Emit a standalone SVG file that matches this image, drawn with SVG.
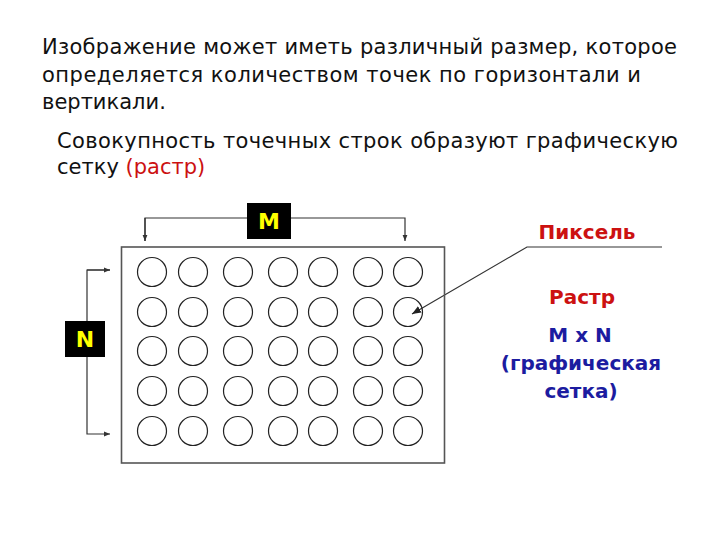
<svg xmlns="http://www.w3.org/2000/svg" width="720" height="540" viewBox="0 0 720 540">
<style>
.t{font-family:"DejaVu Sans","Liberation Sans",sans-serif;font-size:21px;fill:#111}
.b{font-family:"DejaVu Sans","Liberation Sans",sans-serif;font-size:20px;font-weight:bold;text-anchor:middle}
.red{fill:#cc1111}
.blue{fill:#1c1ca0}
.px{fill:none;stroke:#222;stroke-width:1.2}
.ln{fill:none;stroke:#333;stroke-width:1.2}
.lbl{fill:#000}
.yl{font-family:"DejaVu Sans","Liberation Sans",sans-serif;font-size:22px;font-weight:bold;fill:#ffff00;text-anchor:middle}
</style>
<defs>
<marker id="ah" viewBox="0 0 10 10" refX="10" refY="5" markerWidth="6" markerHeight="6" orient="auto" markerUnits="userSpaceOnUse">
<path d="M0,1 L10,5 L0,9 z" fill="#333"/>
</marker>
<marker id="ah2" viewBox="0 0 10 10" refX="10" refY="5" markerWidth="9" markerHeight="9" orient="auto" markerUnits="userSpaceOnUse">
<path d="M0,1 L10,5 L0,9 z" fill="#222"/>
</marker>
</defs>
<rect width="720" height="540" fill="#fff"/>
<g id="text-intro">
<text class="t" x="42" y="54" textLength="635">Изображение может иметь различный размер, которое</text>
<text class="t" x="42" y="82" textLength="599">определяется количеством точек по горизонтали и</text>
<text class="t" x="42" y="109">вертикали.</text>
<text class="t" x="57" y="148" textLength="621">Совокупность точечных строк образуют графическую</text>
<text class="t" x="57" y="174">сетку <tspan class="red">(растр)</tspan></text>
</g>
<g id="connectors">
<polyline class="ln" points="145,241 145,218 405,218 405,241" marker-end="url(#ah)"/>
<line class="ln" x1="145" y1="218" x2="145" y2="241" marker-end="url(#ah)"/>
<polyline class="ln" points="110,270 87,270 87,434 110,434" marker-end="url(#ah)"/>
<line class="ln" x1="87" y1="270" x2="110" y2="270" marker-end="url(#ah)"/>
<polyline class="ln" points="662,247 527,247 412,314" marker-end="url(#ah2)" stroke="#222"/>
</g>
<g id="raster">
<rect x="121.5" y="247" width="323" height="216" fill="none" stroke="#555" stroke-width="1.6"/>
<g id="pixels">
<circle class="px" cx="152" cy="272" r="14.5"/><circle class="px" cx="193" cy="272" r="14.5"/><circle class="px" cx="238" cy="272" r="14.5"/><circle class="px" cx="283" cy="272" r="14.5"/><circle class="px" cx="323" cy="272" r="14.5"/><circle class="px" cx="368" cy="272" r="14.5"/><circle class="px" cx="408" cy="272" r="14.5"/>
<circle class="px" cx="152" cy="312" r="14.5"/><circle class="px" cx="193" cy="312" r="14.5"/><circle class="px" cx="238" cy="312" r="14.5"/><circle class="px" cx="283" cy="312" r="14.5"/><circle class="px" cx="323" cy="312" r="14.5"/><circle class="px" cx="368" cy="312" r="14.5"/><circle class="px" cx="408" cy="312" r="14.5"/>
<circle class="px" cx="152" cy="351" r="14.5"/><circle class="px" cx="193" cy="351" r="14.5"/><circle class="px" cx="238" cy="351" r="14.5"/><circle class="px" cx="283" cy="351" r="14.5"/><circle class="px" cx="323" cy="351" r="14.5"/><circle class="px" cx="368" cy="351" r="14.5"/><circle class="px" cx="408" cy="351" r="14.5"/>
<circle class="px" cx="152" cy="391" r="14.5"/><circle class="px" cx="193" cy="391" r="14.5"/><circle class="px" cx="238" cy="391" r="14.5"/><circle class="px" cx="283" cy="391" r="14.5"/><circle class="px" cx="323" cy="391" r="14.5"/><circle class="px" cx="368" cy="391" r="14.5"/><circle class="px" cx="408" cy="391" r="14.5"/>
<circle class="px" cx="152" cy="431" r="14.5"/><circle class="px" cx="193" cy="431" r="14.5"/><circle class="px" cx="238" cy="431" r="14.5"/><circle class="px" cx="283" cy="431" r="14.5"/><circle class="px" cx="323" cy="431" r="14.5"/><circle class="px" cx="368" cy="431" r="14.5"/><circle class="px" cx="408" cy="431" r="14.5"/>
</g>
</g>
<g id="label-M">
<rect class="lbl" x="247" y="203" width="44" height="36"/>
<text class="yl" x="269" y="229">M</text>
</g>
<g id="label-N">
<rect class="lbl" x="65" y="321" width="40" height="36"/>
<text class="yl" x="85" y="347">N</text>
</g>
<g id="label-pixel">
<text class="b red" x="587" y="239">Пиксель</text>
</g>
<g id="label-raster">
<text class="b red" x="582" y="304">Растр</text>
<text class="b blue" x="580" y="342">M x N</text>
<text class="b blue" x="581" y="370">(графическая</text>
<text class="b blue" x="581" y="398">сетка)</text>
</g>
</svg>
